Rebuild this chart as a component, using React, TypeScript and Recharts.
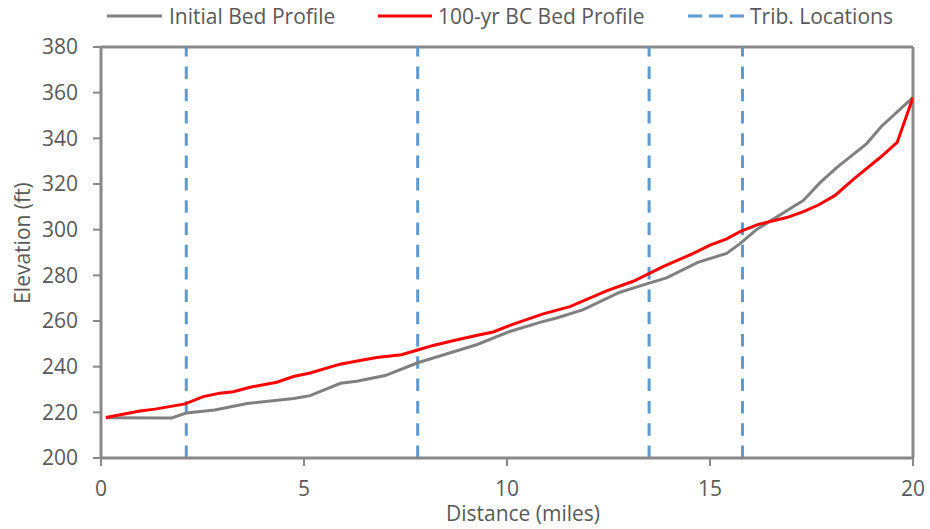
import React from 'react';
import {
  LineChart,
  Line,
  XAxis,
  YAxis,
  CartesianGrid,
  ReferenceLine,
  Legend,
  Label,
} from 'recharts';

// Distance along the reach (miles) and bed elevation (ft)
const initialDistance = [
  0.12, 1.74, 2.1, 2.8, 3.6, 4.75, 5.15, 5.9, 6.3, 7.0, 7.8, 9.25, 10.07, 10.81,
  11.22, 11.88, 12.78, 13.52, 13.93, 14.7, 15.41, 15.74, 16.15, 17.3, 17.71,
  18.12, 18.86, 19.22, 20.0,
];
const initialElevation = [
  217.6, 217.5, 219.7, 221.0, 223.9, 226.1, 227.3, 232.7, 233.6, 236.1, 241.7,
  249.6, 255.4, 259.4, 261.3, 265.0, 272.6, 276.7, 278.9, 285.7, 289.6, 293.9,
  300.1, 312.8, 320.6, 327.2, 337.7, 345.2, 357.9,
];

const bcDistance = [
  0.12, 0.96, 1.33, 2.07, 2.52, 2.93, 3.26, 3.67, 4.33, 4.74, 5.15, 5.89, 6.38,
  6.79, 7.4, 7.82, 8.18, 8.8, 9.33, 9.66, 10.07, 10.89, 11.55, 12.45, 13.11,
  13.87, 14.59, 15.0, 15.41, 15.74, 16.19, 16.89, 17.3, 17.67, 18.08, 18.53,
  19.19, 19.61, 20.0,
];
const bcElevation = [
  217.7, 220.6, 221.4, 223.7, 226.9, 228.4, 229.0, 231.0, 233.2, 235.7, 237.2,
  241.1, 242.7, 244.0, 245.2, 247.4, 249.3, 251.9, 254.0, 255.2, 258.1, 263.1,
  266.3, 273.2, 277.4, 284.0, 289.6, 293.2, 296.0, 299.1, 302.3, 305.3, 307.9,
  310.8, 315.0, 322.0, 331.6, 338.2, 357.9,
];

const tribLocations = [2.1, 7.8, 13.5, 15.8];

const xTicks = [0, 5, 10, 15, 20];
const yTicks = [200, 220, 240, 260, 280, 300, 320, 340, 360, 380];
const xDomain = [0, 20];
const yDomain = [200, 380];

const seriesNames = ['Initial Bed Profile', '100-yr BC Bed Profile', 'Trib. Locations'];

const initialData = initialDistance.map((x, i) => ({ x, y: initialElevation[i] }));
const bcData = bcDistance.map((x, i) => ({ x, y: bcElevation[i] }));

const FONT = '"Open Sans", sans-serif';
const TEXT = '#595959';
const AXIS = '#898989';
const GRAY = '#808080';
const RED = '#ff0000';
const BLUE = '#5b9bd5';

const LegendBox = () => (
  <svg width={930} height={47} style={{ display: 'block' }}>
    <line x1={107} x2={162} y1={16} y2={16} stroke={GRAY} strokeWidth={3} />
    <text x={169} y={24} fontFamily={FONT} fontSize={21} fill={TEXT}>
      {seriesNames[0]}
    </text>
    <line x1={378} x2={432} y1={16} y2={16} stroke={RED} strokeWidth={3} />
    <text x={438} y={24} fontFamily={FONT} fontSize={21} fill={TEXT}>
      {seriesNames[1]}
    </text>
    <line
      x1={688}
      x2={745}
      y1={16}
      y2={16}
      stroke={BLUE}
      strokeWidth={3}
      strokeDasharray="14 7"
    />
    <text x={750} y={24} fontFamily={FONT} fontSize={21} fill={TEXT}>
      {seriesNames[2]}
    </text>
  </svg>
);

const XTitle = (props: any) => {
  const { viewBox } = props;
  const cx = viewBox.x + viewBox.width / 2 + 16;
  return (
    <text x={cx} y={521} textAnchor="middle" fontFamily={FONT} fontSize={21} fill={TEXT}>
      Distance (miles)
    </text>
  );
};

const YTitle = () => (
  <text
    x={0}
    y={0}
    transform="translate(30, 243) rotate(-90)"
    textAnchor="middle"
    fontFamily={FONT}
    fontSize={21}
    fill={TEXT}
  >
    Elevation (ft)
  </text>
);

export default function App() {
  return (
    <div style={{ position: 'absolute', left: 0, top: 0, width: 930, height: 529, background: '#fff' }}>
      <LineChart
        width={930}
        height={529}
        margin={{ top: 0, right: 17, bottom: 0, left: 0 }}
      >
        <Legend
          verticalAlign="top"
          align="left"
          content={() => <LegendBox />}
          wrapperStyle={{ left: 0, top: 0, width: 930, height: 47, lineHeight: 0 }}
        />
        <CartesianGrid horizontal vertical={false} stroke="#d9d9d9" strokeWidth={1.5} />
        <XAxis
          xAxisId="main"
          type="number"
          dataKey="x"
          domain={xDomain}
          ticks={xTicks}
          allowDataOverflow
          height={71}
          axisLine={{ stroke: AXIS, strokeWidth: 3 }}
          tickLine={{ stroke: AXIS, strokeWidth: 2 }}
          tickSize={8}
          tickMargin={15}
          tick={{ fill: TEXT, fontSize: 21, fontFamily: FONT }}
        >
          <Label content={<XTitle />} />
        </XAxis>
        <YAxis
          yAxisId="main"
          type="number"
          domain={yDomain}
          ticks={yTicks}
          allowDataOverflow
          width={101}
          axisLine={{ stroke: AXIS, strokeWidth: 3 }}
          tickLine={{ stroke: AXIS, strokeWidth: 2 }}
          tickSize={8}
          tickMargin={15}
          tick={{ fill: TEXT, fontSize: 21, fontFamily: FONT }}
        >
          <Label content={<YTitle />} />
        </YAxis>
        {/* plot-area frame: top and right edges */}
        <ReferenceLine
          y={yDomain[1]}
          xAxisId="main"
          yAxisId="main"
          stroke={AXIS}
          strokeWidth={3}
        />
        <ReferenceLine
          x={xDomain[1]}
          xAxisId="main"
          yAxisId="main"
          stroke={AXIS}
          strokeWidth={3}
        />
        {tribLocations.map((x) => (
          <ReferenceLine
            key={x}
            x={x}
            xAxisId="main"
            yAxisId="main"
            stroke={BLUE}
            strokeWidth={3}
            strokeDasharray="12.5 9.8"
          />
        ))}
        <Line
          xAxisId="main"
          yAxisId="main"
          data={initialData}
          dataKey="y"
          name={seriesNames[0]}
          type="linear"
          stroke={GRAY}
          strokeWidth={3}
          dot={false}
          isAnimationActive={false}
        />
        <Line
          xAxisId="main"
          yAxisId="main"
          data={bcData}
          dataKey="y"
          name={seriesNames[1]}
          type="linear"
          stroke={RED}
          strokeWidth={3}
          dot={false}
          isAnimationActive={false}
        />
      </LineChart>
    </div>
  );
}
